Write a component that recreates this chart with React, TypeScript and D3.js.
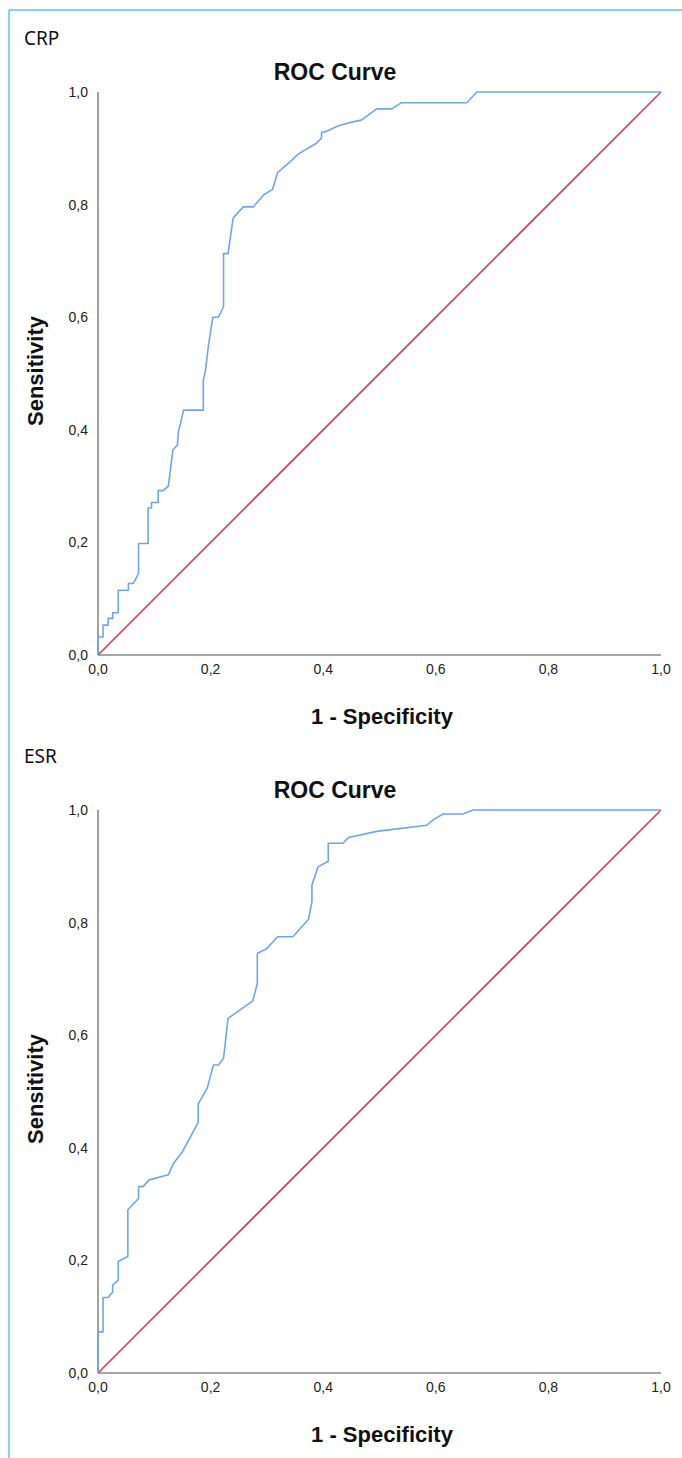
import React from "react";
import * as d3 from "d3";

// ---- data ----
const panelNames = ["CRP", "ESR"];
const tickValues = [0, 0.2, 0.4, 0.6, 0.8, 1.0];
const tickLabels = ["0,0", "0,2", "0,4", "0,6", "0,8", "1,0"];

const crpFpr = [0, 0, 0.009, 0.009, 0.018, 0.018, 0.026, 0.026, 0.036, 0.036, 0.054, 0.054, 0.063, 0.072, 0.072, 0.089, 0.089, 0.095, 0.095, 0.107, 0.107, 0.116, 0.125, 0.133, 0.141, 0.143, 0.152, 0.187, 0.187, 0.191, 0.196, 0.204, 0.214, 0.223, 0.223, 0.231, 0.240, 0.258, 0.276, 0.294, 0.310, 0.319, 0.341, 0.356, 0.388, 0.397, 0.397, 0.403, 0.427, 0.448, 0.468, 0.495, 0.522, 0.539, 0.655, 0.673, 1.0];
const crpTpr = [0, 0.032, 0.032, 0.053, 0.053, 0.065, 0.065, 0.075, 0.075, 0.115, 0.115, 0.127, 0.127, 0.145, 0.198, 0.198, 0.261, 0.261, 0.271, 0.271, 0.292, 0.292, 0.300, 0.364, 0.373, 0.397, 0.435, 0.435, 0.488, 0.506, 0.548, 0.600, 0.600, 0.619, 0.713, 0.713, 0.776, 0.796, 0.796, 0.817, 0.827, 0.857, 0.876, 0.890, 0.909, 0.918, 0.929, 0.929, 0.940, 0.946, 0.950, 0.970, 0.970, 0.981, 0.981, 1.0, 1.0];

const esrFpr = [0, 0, 0.009, 0.009, 0.018, 0.026, 0.026, 0.036, 0.036, 0.053, 0.053, 0.072, 0.072, 0.080, 0.091, 0.125, 0.134, 0.150, 0.178, 0.178, 0.194, 0.205, 0.214, 0.223, 0.231, 0.275, 0.283, 0.283, 0.300, 0.319, 0.346, 0.374, 0.380, 0.380, 0.391, 0.409, 0.409, 0.435, 0.445, 0.495, 0.584, 0.596, 0.613, 0.648, 0.666, 1.0];
const esrTpr = [0, 0.073, 0.073, 0.134, 0.134, 0.144, 0.156, 0.165, 0.198, 0.207, 0.290, 0.310, 0.331, 0.331, 0.343, 0.352, 0.372, 0.393, 0.445, 0.478, 0.506, 0.547, 0.547, 0.559, 0.630, 0.661, 0.692, 0.745, 0.754, 0.775, 0.775, 0.806, 0.837, 0.867, 0.899, 0.909, 0.941, 0.941, 0.951, 0.962, 0.973, 0.983, 0.993, 0.993, 1.0, 1.0];

const panelFpr = [crpFpr, esrFpr];
const panelTpr = [crpTpr, esrTpr];
const refLine = [0, 1];

// ---- layout ----
const W = 682;
const H = 1458;
const PANEL_STEP = 718;
const X0 = 98;
const X1 = 661;
const Y_TOP = 92;
const Y_BOT = 655;

const FONT = "'Liberation Sans', Arial, sans-serif";

function Panel({ idx }: { idx: number }) {
  const off = idx * PANEL_STEP;
  const x = d3.scaleLinear().domain([0, 1]).range([X0, X1]);
  const y = d3.scaleLinear().domain([0, 1]).range([Y_BOT + off, Y_TOP + off]);
  const fpr = panelFpr[idx];
  const tpr = panelTpr[idx];
  const pts: [number, number][] = fpr.map((f, i) => [f, tpr[i]]);
  const line = d3
    .line<[number, number]>()
    .x((d) => x(d[0]))
    .y((d) => y(d[1]));
  const diag = line(refLine.map((v) => [v, v] as [number, number]));
  return (
    <g>
      <text x={24} y={off + 45} fontFamily="'Noto Sans', 'Open Sans', sans-serif" fontSize={19} fill="#111">
        {panelNames[idx]}
      </text>
      <text x={335} y={off + 80} textAnchor="middle" fontFamily={FONT} fontWeight="bold" fontSize={23} fill="#111">
        ROC Curve
      </text>
      {/* axes */}
      <line x1={X0} x2={X0} y1={y(1)} y2={y(0)} stroke="#8a8a8a" strokeWidth={1.6} />
      <line x1={X0} x2={X1} y1={y(0)} y2={y(0)} stroke="#8a8a8a" strokeWidth={1.6} />
      {tickValues.map((t, i) => (
        <text key={"y" + i} x={88} y={y(t) + 5} textAnchor="end" fontFamily={FONT} fontSize={14} fill="#222">
          {tickLabels[i]}
        </text>
      ))}
      {tickValues.map((t, i) => (
        <text key={"x" + i} x={x(t)} y={off + 674} textAnchor="middle" fontFamily={FONT} fontSize={14} fill="#222">
          {tickLabels[i]}
        </text>
      ))}
      <text x={382} y={off + 724} textAnchor="middle" fontFamily={FONT} fontWeight="bold" fontSize={22} fill="#111">
        1 - Specificity
      </text>
      <text
        transform={`translate(43, ${off + 371}) rotate(-90)`}
        textAnchor="middle"
        fontFamily={FONT}
        fontWeight="bold"
        fontSize={22}
        fill="#111"
      >
        Sensitivity
      </text>
      {/* curves */}
      <path d={diag || ""} fill="none" stroke="#e0365c" strokeWidth={1.6} />
      <path d={line(pts) || ""} fill="none" stroke="#6fa6ea" strokeWidth={1.6} strokeLinejoin="round" />
    </g>
  );
}

export default function App() {
  return (
    <div style={{ position: "absolute", left: 0, top: 0, width: W, height: H, background: "#fff" }}>
      <svg width={W} height={H} style={{ display: "block" }}>
        <rect x={0} y={0} width={W} height={H} fill="#fff" />
        <line x1={9} x2={W} y1={10} y2={10} stroke="#5cc8ea" strokeWidth={1.5} />
        <line x1={9} x2={9} y1={10} y2={H} stroke="#5cc8ea" strokeWidth={1.5} />
        {panelNames.map((_, i) => (
          <Panel key={i} idx={i} />
        ))}
      </svg>
    </div>
  );
}
